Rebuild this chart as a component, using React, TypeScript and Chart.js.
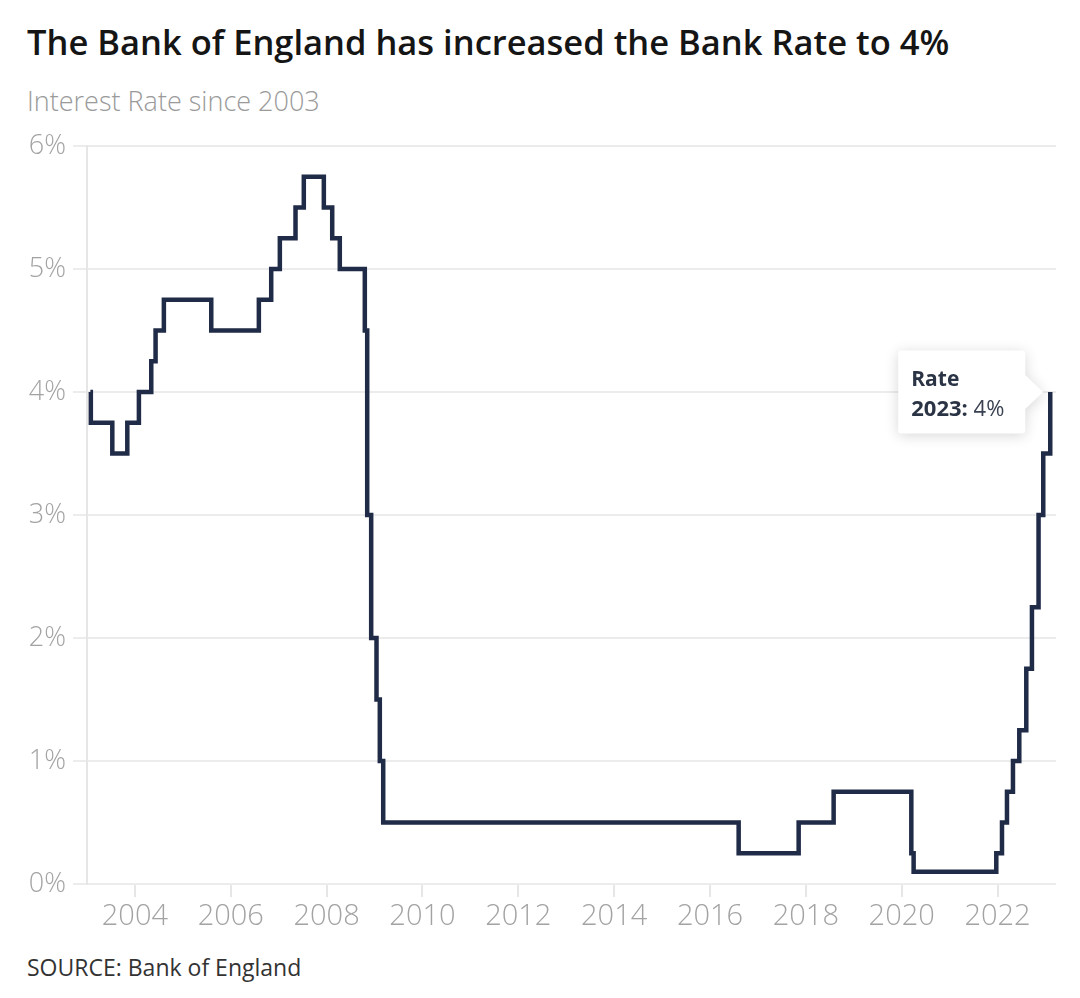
import React, { useEffect, useRef } from "react";
import { Chart, registerables } from "chart.js";

Chart.register(...registerables);

const TITLE = "The Bank of England has increased the Bank Rate to 4%";
const SUBTITLE = "Interest Rate since 2003";
const SOURCE = "SOURCE: Bank of England";
const SERIES_NAME = "Rate";
const TOOLTIP_YEAR = "2023";

// Dates (decimal years) at which the Bank Rate changed, and the new rate (%)
const CHANGE_DATES = [
  2003.07, 2003.08, 2003.528, 2003.841, 2004.083, 2004.341, 2004.431, 2004.604,
  2005.593, 2006.586, 2006.844, 2007.024, 2007.351, 2007.524, 2007.942,
  2008.117, 2008.275, 2008.797, 2008.847, 2008.93, 2009.041, 2009.11,
  2009.181, 2016.598, 2017.85, 2018.58, 2020.201, 2020.249, 2021.974,
  2022.093, 2022.197, 2022.322, 2022.454, 2022.6, 2022.718, 2022.856,
  2022.954, 2023.1,
];
const RATES = [
  4.0, 3.75, 3.5, 3.75, 4.0, 4.25, 4.5, 4.75,
  4.5, 4.75, 5.0, 5.25, 5.5, 5.75, 5.5,
  5.25, 5.0, 4.5, 3.0, 2.0, 1.5, 1.0,
  0.5, 0.25, 0.5, 0.75, 0.25, 0.1, 0.25,
  0.5, 0.75, 1.0, 1.25, 1.75, 2.25, 3.0,
  3.5, 4.0,
];
const X_TICKS = [2004, 2006, 2008, 2010, 2012, 2014, 2016, 2018, 2020, 2022];
const Y_TICKS = [0, 1, 2, 3, 4, 5, 6];
const X_MIN = 2003;
const X_MAX = 2023.22;

const FONT = "'Open Sans', 'Noto Sans', sans-serif";
const LINE_COLOR = "#1f2b47";
const GRID_COLOR = "#ececec";
const TICK_COLOR = "#a3a3a3";

const staticTooltip = {
  id: "staticTooltip",
  afterDraw(chart: any) {
    const meta = chart.getDatasetMeta(0);
    const idx = meta.data.length - 1;
    const pt = meta.data[idx];
    if (!pt) return;
    const value = RATES[idx];
    const ctx = chart.ctx as CanvasRenderingContext2D;
    const px = pt.x;
    const py = pt.y;
    const boxW = 127;
    const boxH = 83;
    const right = px - 25;
    const left = right - boxW;
    const top = py - boxH / 2;
    const bottom = top + boxH;
    const r = 3;
    ctx.save();
    ctx.shadowColor = "rgba(0,0,0,0.16)";
    ctx.shadowBlur = 14;
    ctx.shadowOffsetY = 2;
    ctx.fillStyle = "#ffffff";
    ctx.beginPath();
    ctx.moveTo(left + r, top);
    ctx.lineTo(right - r, top);
    ctx.quadraticCurveTo(right, top, right, top + r);
    ctx.lineTo(right, py - 17);
    ctx.lineTo(px - 7, py);
    ctx.lineTo(right, py + 17);
    ctx.lineTo(right, bottom - r);
    ctx.quadraticCurveTo(right, bottom, right - r, bottom);
    ctx.lineTo(left + r, bottom);
    ctx.quadraticCurveTo(left, bottom, left, bottom - r);
    ctx.lineTo(left, top + r);
    ctx.quadraticCurveTo(left, top, left + r, top);
    ctx.closePath();
    ctx.fill();
    ctx.restore();

    ctx.save();
    ctx.textBaseline = "alphabetic";
    ctx.textAlign = "left";
    ctx.fillStyle = "#2b3445";
    ctx.font = `700 21px ${FONT}`;
    ctx.fillText(SERIES_NAME, left + 13, top + 35);
    const yearText = `${TOOLTIP_YEAR}:`;
    ctx.font = `700 22px ${FONT}`;
    ctx.fillText(yearText, left + 13, top + 65);
    const w = ctx.measureText(yearText).width;
    ctx.font = `400 22px ${FONT}`;
    ctx.fillStyle = "#3a4252";
    ctx.fillText(` ${value}%`, left + 13 + w, top + 65);
    ctx.restore();
  },
};

export default function App() {
  const canvasRef = useRef<HTMLCanvasElement | null>(null);

  useEffect(() => {
    if (!canvasRef.current) return;
    const points = CHANGE_DATES.map((d, i) => ({ x: d, y: RATES[i] }));
    const chart = new Chart(canvasRef.current, {
      type: "line",
      data: {
        datasets: [
          {
            label: SERIES_NAME,
            data: points,
            stepped: true,
            borderColor: LINE_COLOR,
            borderWidth: 4.5,
            pointRadius: 0,
            pointHoverRadius: 0,
            fill: false,
            borderJoinStyle: "miter",
            borderCapStyle: "butt",
          },
        ],
      },
      options: {
        animation: false,
        responsive: false,
        events: [],
        layout: { padding: { left: 0, right: 24, top: 26, bottom: 0 } },
        plugins: {
          legend: { display: false },
          tooltip: { enabled: false },
          title: { display: false },
        },
        scales: {
          x: {
            type: "linear",
            min: X_MIN,
            max: X_MAX,
            afterBuildTicks: (scale: any) => {
              scale.ticks = X_TICKS.map((v) => ({ value: v }));
            },
            afterFit: (scale: any) => {
              scale.height = 66;
            },
            border: { display: false },
            grid: {
              drawOnChartArea: false,
              drawTicks: true,
              tickLength: 13,
              color: "#e6e6e6",
              lineWidth: 2,
            },
            ticks: {
              autoSkip: false,
              maxRotation: 0,
              padding: 2,
              color: TICK_COLOR,
              font: { family: FONT, size: 29, weight: "300" },
              callback: (v: any) => String(v),
            },
          },
          y: {
            type: "linear",
            min: 0,
            max: 6,
            afterBuildTicks: (scale: any) => {
              scale.ticks = Y_TICKS.map((v) => ({ value: v }));
            },
            afterFit: (scale: any) => {
              scale.width = 87;
            },
            border: { display: true, color: "#e6e6e6", width: 2 },
            grid: {
              color: GRID_COLOR,
              lineWidth: 2,
              drawTicks: true,
              tickLength: 14,
            },
            ticks: {
              padding: 7,
              color: TICK_COLOR,
              font: { family: FONT, size: 27, weight: "300" },
              callback: (v: any) => `${v}%`,
            },
          },
        },
      },
      plugins: [staticTooltip],
    } as any);
    return () => chart.destroy();
  }, []);

  return (
    <div
      style={{
        position: "absolute",
        left: 0,
        top: 0,
        width: 1080,
        height: 998,
        background: "#ffffff",
        overflow: "hidden",
      }}
    >
      <div
        style={{
          position: "absolute",
          left: 27,
          top: 25,
          fontFamily: FONT,
          fontSize: 34.5,
          fontWeight: 600,
          lineHeight: "34.5px",
          color: "#151515",
          whiteSpace: "nowrap",
        }}
      >
        {TITLE}
      </div>
      <div
        style={{
          position: "absolute",
          left: 27,
          top: 87,
          fontFamily: FONT,
          fontSize: 27,
          fontWeight: 300,
          lineHeight: "27px",
          color: "#9a9a9a",
          whiteSpace: "nowrap",
        }}
      >
        {SUBTITLE}
      </div>
      <canvas
        ref={canvasRef}
        width={1080}
        height={830}
        style={{ position: "absolute", left: 0, top: 120, width: 1080, height: 830 }}
      />
      <div
        style={{
          position: "absolute",
          left: 27,
          top: 956,
          fontFamily: FONT,
          fontSize: 23,
          fontWeight: 400,
          lineHeight: "23px",
          color: "#333333",
          whiteSpace: "nowrap",
        }}
      >
        {SOURCE}
      </div>
    </div>
  );
}
